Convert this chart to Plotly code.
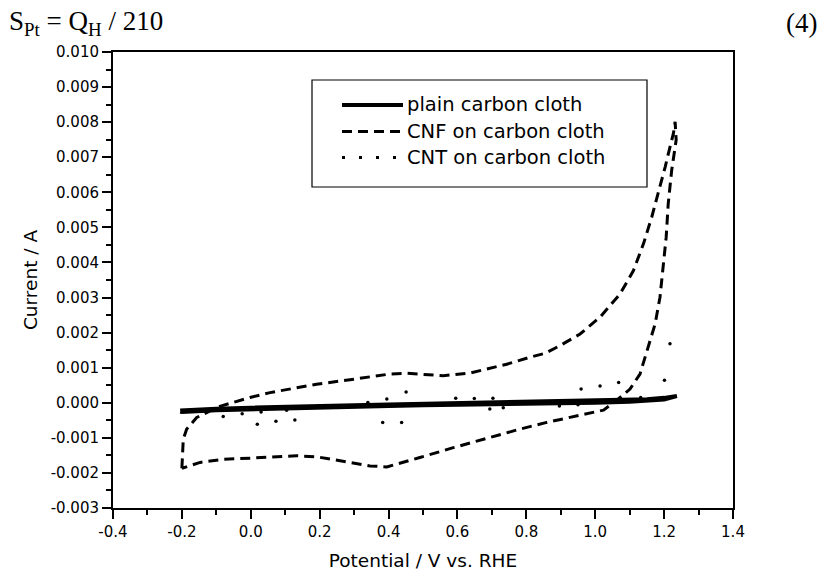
import plotly.graph_objects as go

# ---------------- data ----------------
# plain carbon cloth (forward sweep then reverse sweep)
plain_x = [-0.205, -0.15, -0.10, 0.00, 0.10, 0.20, 0.30, 0.40, 0.50, 0.60, 0.70, 0.80, 0.90, 1.00, 1.10, 1.15, 1.20, 1.237,
           1.20, 1.15, 1.10, 1.00, 0.90, 0.80, 0.70, 0.60, 0.50, 0.40, 0.30, 0.20, 0.10, 0.00, -0.10, -0.20, -0.205]
plain_y = [-0.00022, -0.00019, -0.00017, -0.00014, -0.00011, -0.00009, -0.00007, -0.00005, -0.00003, -0.00001, 0.00000,
           0.00002, 0.00003, 0.00005, 0.00008, 0.00010, 0.00014, 0.00019,
           0.00009, 0.00005, 0.00003, 0.00000, -0.00001, -0.00002, -0.00004, -0.00005, -0.00007, -0.00009, -0.00011,
           -0.00013, -0.00016, -0.00018, -0.00021, -0.00026, -0.00025]

# CNF on carbon cloth
cnf_x = [-0.200, -0.199, -0.196, -0.186, -0.170, -0.157, -0.128, -0.099, -0.051, -0.002, 0.056, 0.114, 0.191, 0.269,
         0.346, 0.404, 0.453, 0.501, 0.559, 0.637, 0.685, 0.743, 0.811, 0.854, 0.898, 0.956, 1.014, 1.072, 1.111,
         1.140, 1.164, 1.183, 1.203, 1.217, 1.227, 1.232,
         1.235, 1.222, 1.212, 1.206, 1.198, 1.188, 1.174, 1.154, 1.130, 1.101, 1.060, 1.024, 0.946, 0.859, 0.782,
         0.685, 0.588, 0.491, 0.443, 0.395, 0.346, 0.269, 0.191, 0.133, 0.056, -0.002, -0.080, -0.147, -0.200]
cnf_y = [-0.00187, -0.00166, -0.00104, -0.00075, -0.00055, -0.00042, -0.00028, -0.00013, 0.00001, 0.00015, 0.00029,
         0.00039, 0.00053, 0.00063, 0.00074, 0.00082, 0.00084, 0.00080, 0.00077, 0.00085, 0.00096, 0.00110, 0.00130,
         0.00141, 0.00163, 0.00196, 0.00244, 0.00310, 0.00377, 0.00453, 0.00529, 0.00596, 0.00672, 0.00729, 0.00768,
         0.00801,
         0.00749, 0.00663, 0.00568, 0.00472, 0.00396, 0.00301, 0.00225, 0.00158, 0.00082, 0.00039, 0.00005, -0.00021,
         -0.00037, -0.00056, -0.00075, -0.00101, -0.00128, -0.00156, -0.00170, -0.00183, -0.00180, -0.00166,
         -0.00154, -0.00151, -0.00156, -0.00158, -0.00161, -0.00170, -0.00187]

# CNT on carbon cloth (visible dots of the dotted curve)
cnt_x = [-0.080, -0.025, 0.030, 0.019, 0.073, 0.128, 0.104, 0.340, 0.395, 0.451, 0.383, 0.438, 0.595, 0.649, 0.703,
         0.694, 0.733, 0.896, 0.950, 0.959, 1.014, 1.068, 1.132, 1.201, 1.217]
cnt_y = [-0.00039, -0.00031, -0.00026, -0.00061, -0.00053, -0.00049, -0.00021, 0.00001, 0.00011, 0.00031, -0.00056,
         -0.00056, 0.00013, 0.00012, 0.00013, -0.00018, -0.00014, -0.00009, -0.00006, 0.00039, 0.00048, 0.00058,
         0.00015, 0.00064, 0.00168]

series_names = ["plain carbon cloth", "CNF on carbon cloth", "CNT on carbon cloth"]

x_tickvals = [-0.4, -0.2, 0.0, 0.2, 0.4, 0.6, 0.8, 1.0, 1.2, 1.4]
x_ticktext = ["-0.4", "-0.2", "0.0", "0.2", "0.4", "0.6", "0.8", "1.0", "1.2", "1.4"]
y_tickvals = [-0.003, -0.002, -0.001, 0.0, 0.001, 0.002, 0.003, 0.004, 0.005, 0.006, 0.007, 0.008, 0.009, 0.010]
y_ticktext = ["-0.003", "-0.002", "-0.001", "0.000", "0.001", "0.002", "0.003", "0.004", "0.005", "0.006",
              "0.007", "0.008", "0.009", "0.010"]

# ---------------- styles ----------------
FONT = "DejaVu Sans, Liberation Sans, Arial, sans-serif"
SERIF = "Liberation Serif, Times New Roman, serif"
W, H = 821, 576
ML, MR, MT, MB = 113, 88, 52, 68
PW, PH = W - ML - MR, H - MT - MB

plain_style = dict(color="black", width=4, dash="solid")
cnf_style = dict(color="black", width=3, dash="10px,6px")
cnt_legend_style = dict(color="black", width=3, dash="3px,14px")

fig = go.Figure()
fig.add_trace(go.Scatter(x=plain_x, y=plain_y, mode="lines", name=series_names[0], line=plain_style,
                         showlegend=False))
fig.add_trace(go.Scatter(x=cnf_x, y=cnf_y, mode="lines", name=series_names[1], line=cnf_style, showlegend=False))
fig.add_trace(go.Scatter(x=cnt_x, y=cnt_y, mode="markers", name=series_names[2],
                         marker=dict(color="black", size=3.5, symbol="circle"), showlegend=False))


def px_x(p):
    return (p - ML) / PW


def px_y(p):
    return (H - MB - p) / PH


# legend box, samples and labels
fig.add_shape(type="rect", xref="paper", yref="paper", x0=px_x(312), x1=px_x(647), y0=px_y(187), y1=px_y(80),
              line=dict(color="black", width=1.2))
rows = [105, 131.5, 157.5]
for name, st, r in zip(series_names, [plain_style, cnf_style, cnt_legend_style], rows):
    fig.add_shape(type="line", xref="paper", yref="paper", x0=px_x(342), x1=px_x(403), y0=px_y(r), y1=px_y(r),
                  line=st)
    fig.add_annotation(xref="paper", yref="paper", x=px_x(405), y=px_y(r), text=name, showarrow=False,
                       xanchor="left", yanchor="middle", font=dict(family=FONT, size=19.5, color="black"))

# header equation text
fig.add_annotation(xref="paper", yref="paper", x=px_x(7), y=px_y(23), text="S<sub>Pt</sub> = Q<sub>H</sub> / 210",
                   showarrow=False, xanchor="left", yanchor="middle", font=dict(family=SERIF, size=27, color="black"))
fig.add_annotation(xref="paper", yref="paper", x=px_x(819), y=px_y(23), text="(4)",
                   showarrow=False, xanchor="right", yanchor="middle", font=dict(family=SERIF, size=27, color="black"))

axis_common = dict(showgrid=False, zeroline=False, showline=True, linecolor="black", linewidth=2, mirror=True,
                   ticks="outside", tickcolor="black", tickwidth=1.5, ticklen=9,
                   tickfont=dict(family=FONT, size=15, color="black"))

fig.update_xaxes(range=[-0.4, 1.4], tickvals=x_tickvals, ticktext=x_ticktext,
                 minor=dict(dtick=0.1, tick0=-0.4, ticks="outside", ticklen=5, tickwidth=1.5, tickcolor="black"),
                 title=dict(text="Potential / V vs. RHE", font=dict(family=FONT, size=18.5, color="black"),
                            standoff=14),
                 **axis_common)
fig.update_yaxes(range=[-0.003, 0.010], tickvals=y_tickvals, ticktext=y_ticktext,
                 minor=dict(dtick=0.0005, tick0=0, ticks="outside", ticklen=5, tickwidth=1.5, tickcolor="black"),
                 title=dict(text="Current / A", font=dict(family=FONT, size=18.5, color="black"), standoff=8),
                 **axis_common)

fig.update_layout(width=W, height=H, margin=dict(l=ML, r=MR, t=MT, b=MB, autoexpand=False),
                  paper_bgcolor="white", plot_bgcolor="white", showlegend=False)

fig.write_html("out.html")
